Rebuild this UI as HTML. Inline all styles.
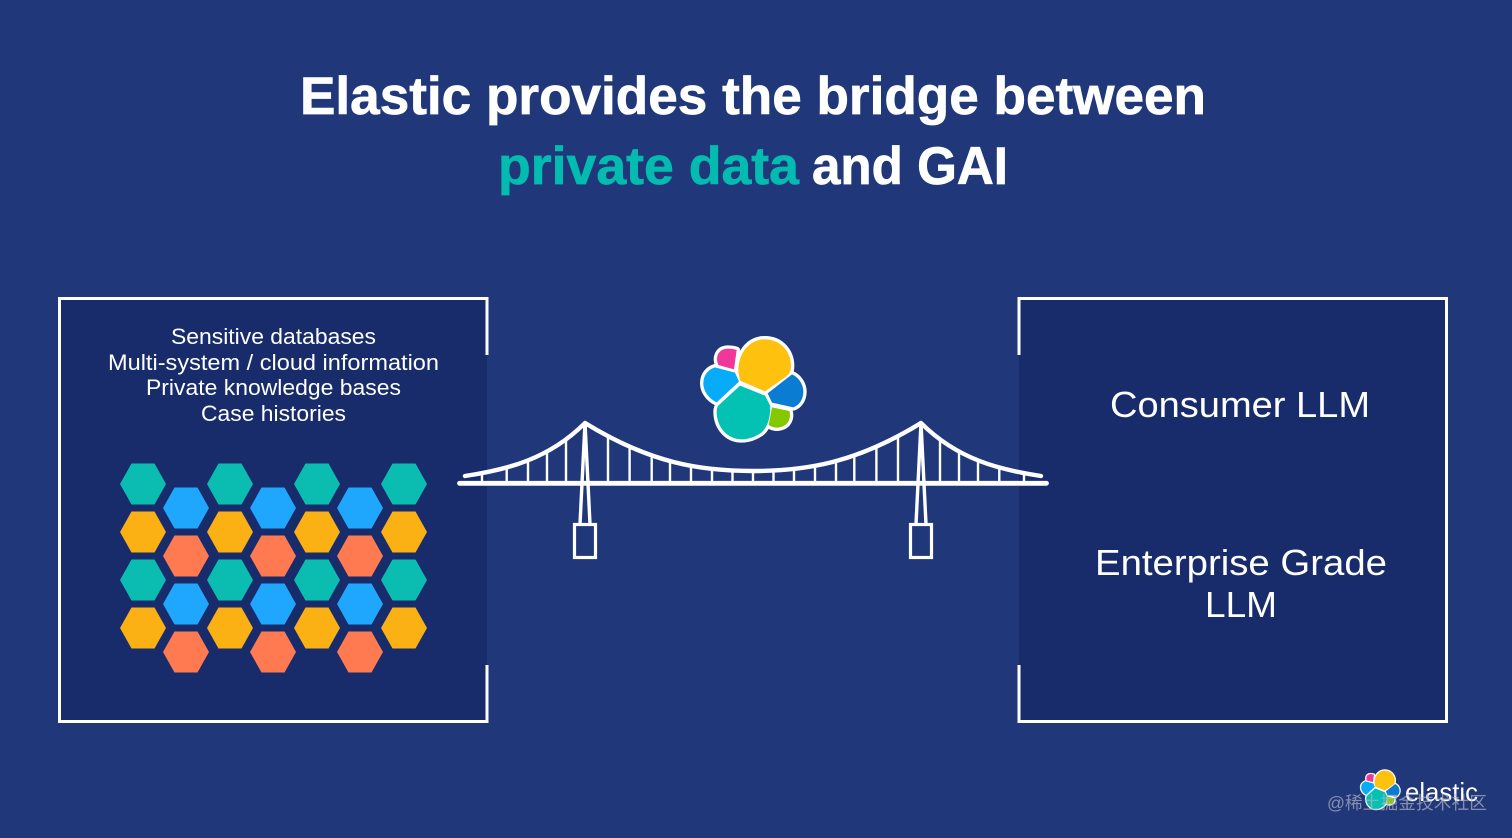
<!DOCTYPE html>
<html>
<head>
<meta charset="utf-8">
<style>
html,body{margin:0;padding:0;width:1512px;height:838px;overflow:hidden;background:#20377A}
svg{display:block;position:absolute;left:0;top:0}
text{font-family:"Liberation Sans","Noto Sans CJK SC",sans-serif;fill:#fff}
.t{font-size:53px;font-weight:700;stroke:#fff;stroke-width:.7px}
</style>
</head>
<body>
<svg width="1512" height="838" viewBox="0 0 1512 838" xmlns="http://www.w3.org/2000/svg">
<defs>
<g id="shapes">
<path d="M145,125C145,60 185,28 225,28C272,28 303,65 303,108C303,125 297,132 288,140L225,184L150,152Z" fill="#FEC10E"/>
<path d="M140,60L132,118L85,105C76,85 82,58 112,56C122,56 132,57 140,60Z" fill="#F0379A"/>
<path d="M75,112L135,128L147,155L80,217C55,205 40,182 40,160C40,135 55,118 75,112Z" fill="#07ABF7"/>
<path d="M306,133C328,143 340,165 340,185C340,209 327,226 310,232L246,218L233,190Z" fill="#0A7DD3"/>
<path d="M246,232L298,243C303,258 300,290 262,293C252,293 244,290 236,285Z" fill="#83C800"/>
<path d="M150,167L225,197L241,228C241,265 232,292 215,307C198,320 175,328 155,328C112,328 80,292 80,245C80,235 83,228 88,224Z" fill="#03C1B3"/>
</g>
<g id="logo">
<g fill="#fff" stroke="#fff" stroke-width="20" stroke-linejoin="round">
<path d="M145,125C145,60 185,28 225,28C272,28 303,65 303,108C303,125 297,132 288,140L225,184L150,152Z"/>
<path d="M140,60L132,118L85,105C76,85 82,58 112,56C122,56 132,57 140,60Z"/>
<path d="M75,112L135,128L147,155L80,217C55,205 40,182 40,160C40,135 55,118 75,112Z"/>
<path d="M306,133C328,143 340,165 340,185C340,209 327,226 310,232L246,218L233,190Z"/>
<path d="M246,232L298,243C303,258 300,290 262,293C252,293 244,290 236,285Z"/>
<path d="M150,167L225,197L241,228C241,265 232,292 215,307C198,320 175,328 155,328C112,328 80,292 80,245C80,235 83,228 88,224Z"/>
</g>
<use href="#shapes"/>
</g>
<polygon id="h" points="-23,0 -11.5,-20.5 11.5,-20.5 23,0 11.5,20.5 -11.5,20.5"/>
<g id="half">
<path d="M465,476C505,470 548,460 585,423" fill="none" stroke="#fff" stroke-width="4.4" stroke-linecap="round"/>
<path d="M585,423C650,463 700,471 753,471" fill="none" stroke="#fff" stroke-width="4.4"/>
<path d="M482,473V483M506.7,468V483M528,461V483M547,452V483M566,440V483M608,436V483M629.6,448V483M651.7,456V483M670,460.5V483M691,466V483M712,469V483M732.5,470.5V483" stroke="#fff" stroke-width="2.4" fill="none"/>
<path d="M585,423L580,524M585,423L590,524" stroke="#fff" stroke-width="3.4" fill="none"/>
<rect x="574.5" y="524.5" width="21" height="33" fill="none" stroke="#fff" stroke-width="3.2"/>
</g>
</defs>

<rect width="1512" height="838" fill="#20377A"/>

<!-- Title -->
<text class="t" x="300" y="114" textLength="906" lengthAdjust="spacingAndGlyphs">Elastic provides the bridge between</text>
<text class="t" x="498" y="184" textLength="301" lengthAdjust="spacingAndGlyphs" style="fill:#03BBB0;stroke:#03BBB0">private data</text>
<text class="t" x="812" y="184" textLength="196" lengthAdjust="spacingAndGlyphs">and GAI</text>

<!-- Panels -->
<rect x="59" y="298" width="428" height="424" fill="#182C6C"/>
<rect x="1019" y="298" width="428" height="424" fill="#182C6C"/>
<path d="M487,355V298.5H59.5V721.5H487V665" fill="none" stroke="#fff" stroke-width="3"/>
<path d="M1019,355V298.5H1446.5V721.5H1019V665" fill="none" stroke="#fff" stroke-width="3"/>

<!-- Left text -->
<text x="171" y="344" font-size="22" textLength="205" lengthAdjust="spacingAndGlyphs">Sensitive databases</text>
<text x="108" y="370" font-size="22" textLength="331" lengthAdjust="spacingAndGlyphs">Multi-system / cloud information</text>
<text x="146" y="395" font-size="22" textLength="255" lengthAdjust="spacingAndGlyphs">Private knowledge bases</text>
<text x="201" y="421" font-size="22" textLength="145" lengthAdjust="spacingAndGlyphs">Case histories</text>

<!-- Right text -->
<text x="1110" y="417" font-size="36" textLength="260" lengthAdjust="spacingAndGlyphs">Consumer LLM</text>
<text x="1095" y="575" font-size="36" textLength="292" lengthAdjust="spacingAndGlyphs">Enterprise Grade</text>
<text x="1205" y="617" font-size="36" textLength="72" lengthAdjust="spacingAndGlyphs">LLM</text>

<!-- Hexagons -->
<g fill="#0BBDB0">
<use href="#h" x="143" y="484"/><use href="#h" x="230" y="484"/><use href="#h" x="317" y="484"/><use href="#h" x="404" y="484"/>
<use href="#h" x="143" y="580"/><use href="#h" x="230" y="580"/><use href="#h" x="317" y="580"/><use href="#h" x="404" y="580"/>
</g>
<g fill="#FBB014">
<use href="#h" x="143" y="532"/><use href="#h" x="230" y="532"/><use href="#h" x="317" y="532"/><use href="#h" x="404" y="532"/>
<use href="#h" x="143" y="628"/><use href="#h" x="230" y="628"/><use href="#h" x="317" y="628"/><use href="#h" x="404" y="628"/>
</g>
<g fill="#1EA7FD">
<use href="#h" x="186" y="508"/><use href="#h" x="273" y="508"/><use href="#h" x="360" y="508"/>
<use href="#h" x="186" y="604"/><use href="#h" x="273" y="604"/><use href="#h" x="360" y="604"/>
</g>
<g fill="#FF7A50">
<use href="#h" x="186" y="556"/><use href="#h" x="273" y="556"/><use href="#h" x="360" y="556"/>
<use href="#h" x="186" y="652"/><use href="#h" x="273" y="652"/><use href="#h" x="360" y="652"/>
</g>

<!-- Bridge -->
<use href="#half"/>
<use href="#half" transform="translate(1506 0) scale(-1 1)"/>
<path d="M753,470.7V483" stroke="#fff" stroke-width="2.4"/>
<path d="M459.5,483.3H1046.5" stroke="#fff" stroke-width="4.8" stroke-linecap="round"/>

<!-- Main logo -->
<g transform="translate(690 330) scale(.33333)">
<use href="#logo"/>
</g>

<!-- Footer logo -->
<g transform="translate(1356 767) scale(.128)">
<use href="#logo"/>
</g>
<text x="1405" y="801" font-size="26" textLength="73" lengthAdjust="spacingAndGlyphs">elastic</text>
<text x="1327" y="809" font-size="17.7" textLength="160" lengthAdjust="spacing" style="fill:#AEB2C2;fill-opacity:.72">@稀土掘金技术社区</text>
</svg>
</body>
</html>
